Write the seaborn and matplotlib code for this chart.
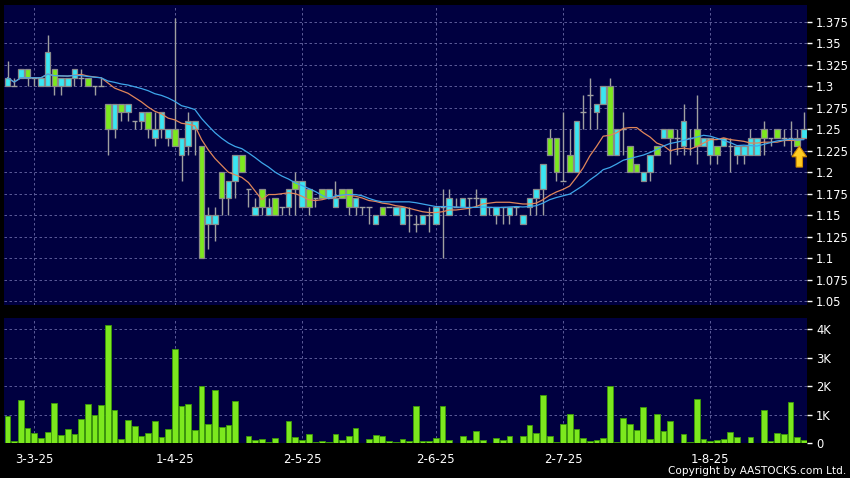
import numpy as np
import pandas as pd
import matplotlib
matplotlib.use("Agg")
import matplotlib.pyplot as plt
import seaborn as sns
from matplotlib.ticker import FuncFormatter
from matplotlib.patches import FancyArrow

# ---------------- data ----------------
opens = [1.30, 1.30, 1.31, 1.32, 1.31, 1.30, 1.30, 1.32, 1.30, 1.30,
         1.31, 1.31, 1.31, 1.30, 1.30, 1.28, 1.25, 1.28, 1.27, 1.26,
         1.26, 1.27, 1.24, 1.25, 1.24, 1.25, 1.22, 1.23, 1.25, 1.23,
         1.14, 1.14, 1.20, 1.17, 1.19, 1.22, 1.18, 1.15, 1.18, 1.15,
         1.17, 1.16, 1.16, 1.19, 1.16, 1.18, 1.17, 1.18, 1.17, 1.16,
         1.18, 1.18, 1.16, 1.16, 1.16, 1.14, 1.16, 1.16, 1.15, 1.14,
         1.15, 1.14, 1.14, 1.15, 1.14, 1.16, 1.15, 1.16, 1.16, 1.17,
         1.17, 1.15, 1.16, 1.15, 1.16, 1.15, 1.16, 1.14, 1.16, 1.17,
         1.18, 1.24, 1.24, 1.19, 1.22, 1.20, 1.27, 1.29, 1.27, 1.28,
         1.30, 1.22, 1.25, 1.23, 1.21, 1.19, 1.20, 1.23, 1.24, 1.25,
         1.24, 1.23, 1.24, 1.25, 1.23, 1.22, 1.23, 1.23, 1.23, 1.22,
         1.22, 1.22, 1.22, 1.25, 1.24, 1.25, 1.24, 1.24, 1.24, 1.24]
highs = [1.33, 1.31, 1.32, 1.32, 1.31, 1.31, 1.36, 1.32, 1.31, 1.31,
         1.32, 1.32, 1.31, 1.30, 1.31, 1.28, 1.28, 1.28, 1.28, 1.26,
         1.27, 1.27, 1.27, 1.27, 1.25, 1.38, 1.24, 1.27, 1.26, 1.23,
         1.16, 1.16, 1.20, 1.19, 1.22, 1.22, 1.18, 1.17, 1.18, 1.17,
         1.17, 1.16, 1.18, 1.20, 1.19, 1.18, 1.17, 1.18, 1.18, 1.19,
         1.18, 1.18, 1.17, 1.16, 1.16, 1.15, 1.16, 1.16, 1.16, 1.16,
         1.16, 1.15, 1.15, 1.16, 1.16, 1.18, 1.18, 1.17, 1.17, 1.17,
         1.18, 1.17, 1.16, 1.16, 1.16, 1.16, 1.16, 1.15, 1.17, 1.18,
         1.21, 1.25, 1.24, 1.27, 1.25, 1.26, 1.29, 1.31, 1.28, 1.30,
         1.31, 1.25, 1.27, 1.23, 1.21, 1.20, 1.22, 1.23, 1.25, 1.25,
         1.25, 1.28, 1.25, 1.29, 1.24, 1.24, 1.23, 1.24, 1.24, 1.23,
         1.23, 1.25, 1.24, 1.26, 1.24, 1.25, 1.25, 1.26, 1.25, 1.27]
lows = [1.30, 1.30, 1.31, 1.30, 1.30, 1.30, 1.30, 1.29, 1.29, 1.30,
        1.30, 1.30, 1.30, 1.29, 1.30, 1.22, 1.24, 1.26, 1.26, 1.25,
        1.25, 1.24, 1.23, 1.24, 1.23, 1.23, 1.19, 1.22, 1.22, 1.10,
        1.11, 1.12, 1.15, 1.15, 1.17, 1.20, 1.16, 1.15, 1.15, 1.15,
        1.15, 1.15, 1.15, 1.15, 1.16, 1.15, 1.16, 1.17, 1.17, 1.16,
        1.17, 1.15, 1.15, 1.15, 1.14, 1.14, 1.15, 1.16, 1.15, 1.14,
        1.13, 1.13, 1.14, 1.13, 1.14, 1.10, 1.15, 1.16, 1.16, 1.15,
        1.16, 1.15, 1.15, 1.14, 1.14, 1.14, 1.15, 1.14, 1.15, 1.15,
        1.15, 1.22, 1.19, 1.19, 1.20, 1.20, 1.25, 1.25, 1.25, 1.28,
        1.22, 1.22, 1.22, 1.20, 1.20, 1.19, 1.19, 1.22, 1.24, 1.21,
        1.22, 1.22, 1.22, 1.21, 1.23, 1.21, 1.21, 1.23, 1.20, 1.21,
        1.21, 1.22, 1.22, 1.22, 1.23, 1.24, 1.23, 1.22, 1.23, 1.24]
closes = [1.31, 1.30, 1.32, 1.31, 1.31, 1.31, 1.34, 1.30, 1.31, 1.31,
          1.32, 1.31, 1.30, 1.30, 1.30, 1.25, 1.28, 1.27, 1.28, 1.26,
          1.27, 1.25, 1.25, 1.27, 1.25, 1.23, 1.24, 1.26, 1.26, 1.10,
          1.15, 1.15, 1.17, 1.19, 1.22, 1.20, 1.18, 1.16, 1.16, 1.16,
          1.15, 1.16, 1.18, 1.18, 1.19, 1.16, 1.17, 1.17, 1.18, 1.17,
          1.17, 1.16, 1.17, 1.16, 1.16, 1.15, 1.15, 1.16, 1.16, 1.16,
          1.15, 1.14, 1.15, 1.15, 1.16, 1.16, 1.17, 1.16, 1.17, 1.17,
          1.17, 1.17, 1.16, 1.16, 1.16, 1.16, 1.16, 1.15, 1.17, 1.18,
          1.21, 1.22, 1.20, 1.19, 1.20, 1.26, 1.27, 1.29, 1.28, 1.30,
          1.22, 1.25, 1.25, 1.20, 1.20, 1.20, 1.22, 1.22, 1.25, 1.24,
          1.24, 1.26, 1.24, 1.23, 1.24, 1.24, 1.22, 1.24, 1.23, 1.23,
          1.23, 1.24, 1.24, 1.24, 1.24, 1.24, 1.24, 1.24, 1.23, 1.25]
volumes_k = [0.96, 0.09, 1.52, 0.53, 0.37, 0.19, 0.40, 1.40, 0.30, 0.49,
             0.32, 0.85, 1.39, 0.99, 1.36, 4.15, 1.17, 0.14, 0.81, 0.60,
             0.26, 0.36, 0.77, 0.23, 0.50, 3.31, 1.32, 1.37, 0.47, 2.01,
             0.69, 1.87, 0.57, 0.65, 1.50, 0.01, 0.27, 0.10, 0.14, 0.06,
             0.20, 0.02, 0.78, 0.23, 0.12, 0.34, 0.05, 0.07, 0.06, 0.32,
             0.13, 0.26, 0.55, 0.01, 0.16, 0.28, 0.25, 0.08, 0.04, 0.14,
             0.08, 1.32, 0.09, 0.08, 0.18, 1.32, 0.13, 0.00, 0.27, 0.12,
             0.44, 0.13, 0.01, 0.18, 0.13, 0.26, 0.00, 0.26, 0.63, 0.36,
             1.68, 0.27, 0.05, 0.69, 1.03, 0.50, 0.18, 0.08, 0.12, 0.18,
             2.00, 0.06, 0.89, 0.69, 0.47, 1.26, 0.16, 1.03, 0.42, 0.78,
             0.01, 0.33, 0.05, 1.57, 0.15, 0.08, 0.10, 0.16, 0.41, 0.23,
             0.01, 0.23, 0.01, 1.17, 0.08, 0.37, 0.34, 1.46, 0.23, 0.13]
date_labels = ["3-3-25", "1-4-25", "2-5-25", "2-6-25", "2-7-25", "1-8-25"]
date_label_pos = [4, 25, 44, 64, 83, 105]
price_ticks = [1.05, 1.075, 1.1, 1.125, 1.15, 1.175, 1.2, 1.225, 1.25,
               1.275, 1.3, 1.325, 1.35, 1.375]
vol_ticks = [0, 1, 2, 3, 4]
vol_tick_labels = ["0", "1K", "2K", "3K", "4K"]
arrow_bar = 118

# ---------------- styling ----------------
sns.set_theme(style="dark")
plt.rcParams["font.family"] = ["DejaVu Sans"]

BG = "#000040"
GRID = "#6a6aa6"
UP = "#3ae6f2"
DOWN = "#7ce81e"
EDGE = "#8a8a8a"
WICK = "#a0a0a0"

df = pd.DataFrame({"i": np.arange(len(closes)), "open": opens, "high": highs,
                   "low": lows, "close": closes, "vol": volumes_k})
df["ma10"] = df["close"].rolling(10, min_periods=1).mean()
df["ma20"] = df["close"].rolling(20, min_periods=1).mean()

W, H = 850, 478
fig = plt.figure(figsize=(W / 100, H / 100), dpi=100, facecolor="black")
ax1 = fig.add_axes([4 / W, 1 - 305 / H, 803 / W, 300 / H])
ax2 = fig.add_axes([4 / W, 1 - 443.3 / H, 803 / W, 125 / H])

step = (804 - 7.5) / 119
xlim = (-(7.5 - 4) / step, (807 - 7.5) / step)

for ax in (ax1, ax2):
    ax.set_facecolor(BG)
    for s in ax.spines.values():
        s.set_visible(False)
    ax.set_xlim(*xlim)
    ax.grid(True, color=GRID, linestyle=(0, (3, 3)), linewidth=0.6)
    ax.set_axisbelow(True)

# ---- price panel ----
body_w = 0.84
ax1.vlines(df["i"], df["low"], df["high"], color=WICK, lw=1.0, zorder=2)
nd = df[df["open"] != df["close"]]
bottoms = np.minimum(nd["open"], nd["close"])
heights = np.abs(nd["close"] - nd["open"])
cols = np.where(nd["close"] > nd["open"], UP, DOWN)
ax1.bar(nd["i"], heights, bottom=bottoms, width=body_w, color=cols,
        edgecolor=EDGE, linewidth=0.9, zorder=3)
dj = df[df["open"] == df["close"]]
ax1.hlines(dj["close"], dj["i"] - body_w / 2, dj["i"] + body_w / 2,
           color=WICK, lw=1.0, zorder=3)

sns.lineplot(data=df, x="i", y="ma10", ax=ax1, color="#e0865a", lw=0.9, zorder=4)
sns.lineplot(data=df, x="i", y="ma20", ax=ax1, color="#3ea6ea", lw=0.9, zorder=4)

# yellow "latest" arrow under the last-but-one candle
tip = df["low"][arrow_bar] + 0.0005
arr = FancyArrow(arrow_bar + 0.3, tip - 0.0245, 0, 0.0245, width=0.95,
                 head_width=2.2, head_length=0.0125, length_includes_head=True,
                 fc="#ffcc22", ec="#d08a00", lw=0.8, zorder=5)
ax1.add_patch(arr)

ax1.set_ylim(1.375 - 283 / 858.4, 1.375 + 17 / 858.4)
ax1.set_yticks(price_ticks)
ax1.yaxis.set_major_formatter(FuncFormatter(lambda v, p: f"{v:g}"))
ax1.yaxis.tick_right()
ax1.set_xticks(date_label_pos)
ax1.set_xticklabels([])
ax1.tick_params(axis="x", length=0)
ax1.tick_params(axis="y", colors="white", labelcolor="white", length=3.5,
                width=1, pad=3, labelsize=8.3, direction="out")
ax1.set_xlabel("")
ax1.set_ylabel("")

# ---- volume panel ----
sns.barplot(data=df, x="i", y="vol", ax=ax2, native_scale=True, color=DOWN,
            width=0.86, edgecolor="#3c9a08", linewidth=0.6, saturation=1)
ax2.set_xlim(*xlim)
ax2.set_ylim(0, 125 / 28.5)
ax2.set_yticks(vol_ticks)
ax2.set_yticklabels(vol_tick_labels)
ax2.yaxis.tick_right()
ax2.set_xticks(date_label_pos)
ax2.set_xticklabels(date_labels)
ax2.tick_params(axis="y", colors="white", labelcolor="white", length=3.5,
                width=1, pad=3, labelsize=8.3, direction="out")
ax2.tick_params(axis="x", colors="white", labelcolor="white", length=3,
                width=1, pad=4, labelsize=8.5, direction="out")
ax2.set_xlabel("")
ax2.set_ylabel("")

fig.text(846 / W, 2 / H, "Copyright by AASTOCKS.com Ltd.", ha="right",
         va="bottom", color="white", fontsize=7.6)

fig.savefig("out.png", dpi=100, facecolor="black")
